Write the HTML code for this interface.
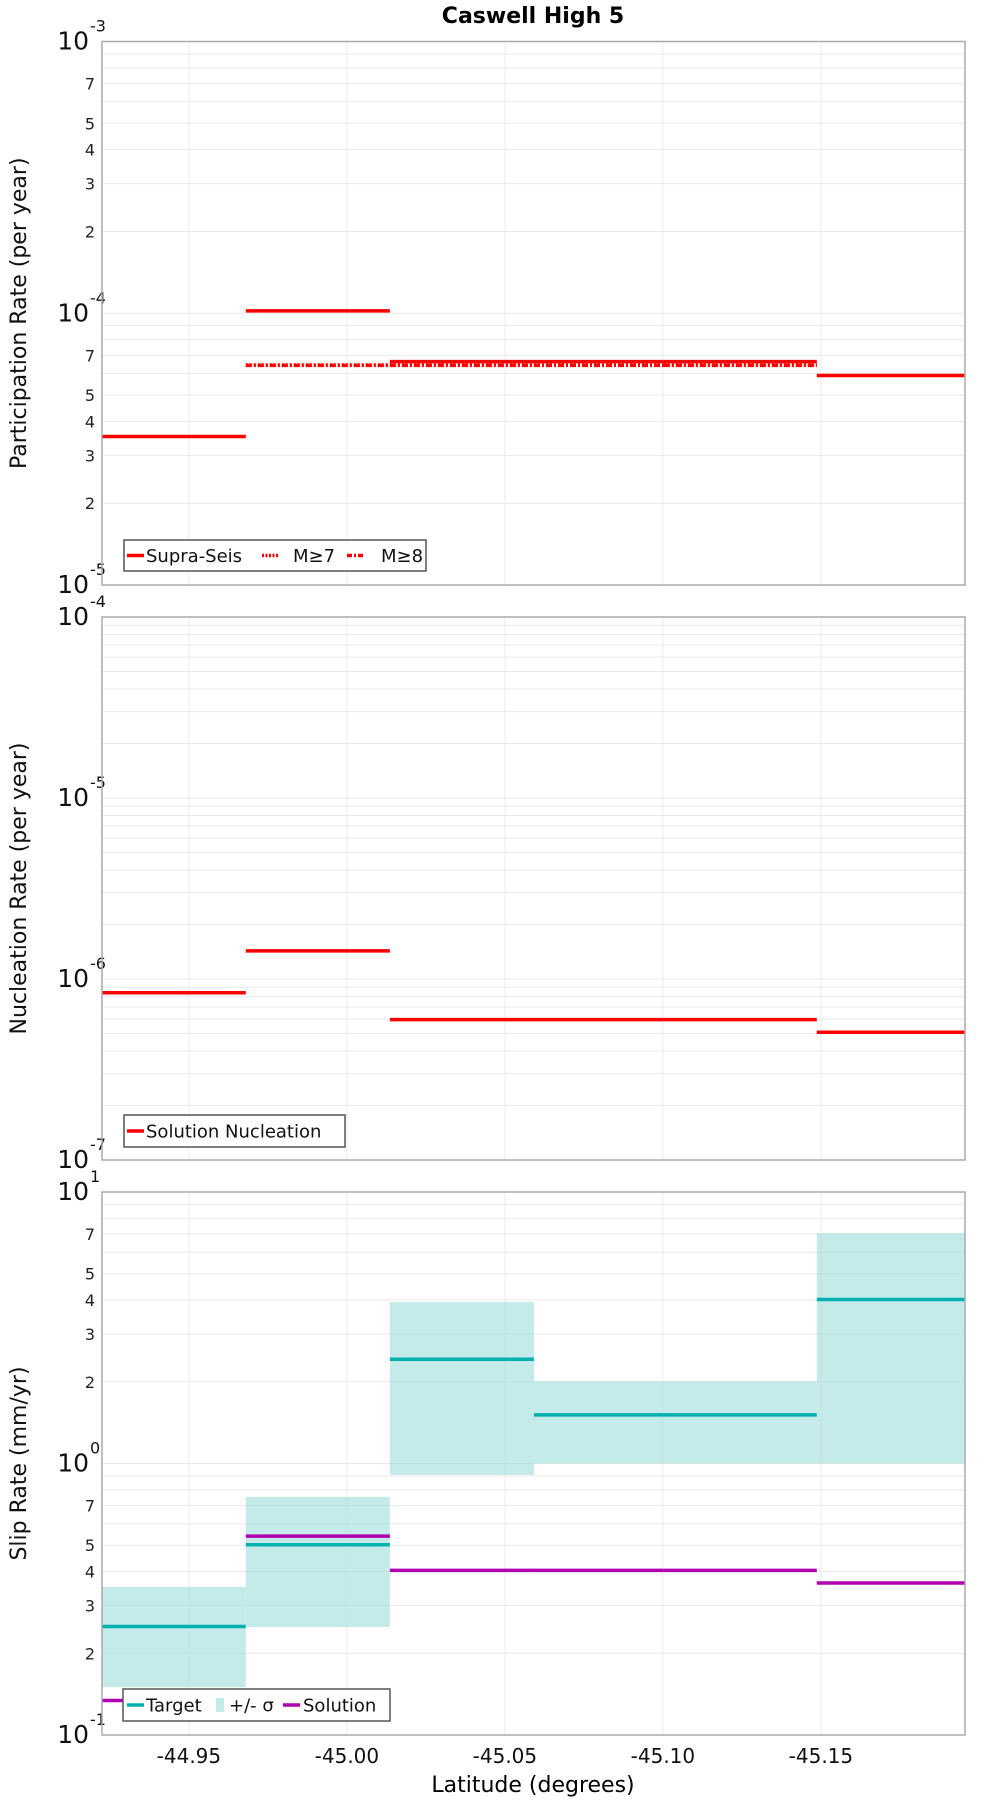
<!DOCTYPE html>
<html><head><meta charset="utf-8"><style>
html,body{margin:0;padding:0;background:#fff;}
svg text{font-family:"DejaVu Sans","Liberation Sans",sans-serif;}
</style></head><body>
<svg id="chart" xmlns="http://www.w3.org/2000/svg" width="1000" height="1800" viewBox="0 0 1000 1800">
<rect width="1000" height="1800" fill="#fff"/>
<text x="533" y="23" text-anchor="middle" font-size="22" font-weight="bold">Caswell High 5</text>
<g id="layer"></g>
<text x="533" y="1792" text-anchor="middle" font-size="22">Latitude (degrees)</text>
</svg>
<script>
// ---- data ----
const sectionBounds = [-44.9225, -44.968, -45.0136, -45.0592, -45.1003, -45.1487, -45.1956];
const xTicks = [-44.95, -45.00, -45.05, -45.10, -45.15];
const xTickLabels = ["-44.95", "-45.00", "-45.05", "-45.10", "-45.15"];
const supraSeis = [3.52e-5, 1.02e-4, 6.64e-5, 6.64e-5, 6.64e-5, 5.9e-5];
const m7Rate = [null, 6.45e-5, 6.45e-5, 6.45e-5, 6.45e-5, null];
const m8Rate = [null, 6.43e-5, 6.43e-5, 6.43e-5, 6.43e-5, null];
const nucleation = [8.4e-7, 1.43e-6, 5.96e-7, 5.96e-7, 5.96e-7, 5.08e-7];
const targetSlip = [0.251, 0.502, 2.42, 1.51, 1.51, 4.02];
const sigmaHigh = [0.351, 0.753, 3.93, 2.01, 2.01, 7.05];
const sigmaLow = [0.150, 0.25, 0.908, 1.0, 1.0, 1.0];
const solutionSlip = [0.134, 0.54, 0.404, 0.404, 0.404, 0.363];
const panel1Decades = [-5, -3];
const panel2Decades = [-7, -4];
const panel3Decades = [-1, 1];

// ---- layout ----
const NS = "http://www.w3.org/2000/svg";
const layer = document.getElementById("layer");
const X0 = 102, X1 = 965;
const latL = -44.9225, latR = -45.1956;
function xScale(lat){ return X0 + (lat - latL) / (latR - latL) * (X1 - X0); }
function mk(tag, attrs, parent){
  const e = document.createElementNS(NS, tag);
  for (const k in attrs) e.setAttribute(k, attrs[k]);
  (parent || layer).appendChild(e);
  return e;
}
function makeY(top, bottom, d){
  return v => bottom - (Math.log10(v) - d[0]) / (d[1] - d[0]) * (bottom - top);
}

function panel(name, top, bottom, decades, minorLabels, title){
  const g = mk("g", {});
  
  
  const y = makeY(top, bottom, decades);
  // minor gridlines
  for (let d = decades[0]; d < decades[1]; d++) {
    for (let m = 2; m <= 9; m++) {
      const yy = y(m * Math.pow(10, d));
      const gl = mk("line", {x1: X0, x2: X1, y1: yy, y2: yy, stroke: "#e9e9e9", "stroke-width": 1}, g);
      
      
      if (minorLabels && [2,3,4,5,7].includes(m)) {
        const t = mk("text", {x: 95, y: yy + 6, "text-anchor": "end", "font-size": 16, fill: "#222"}, g);
        t.textContent = String(m);
        
        
      }
    }
  }
  for (let d = decades[0]; d <= decades[1]; d++) {
    const yy = y(Math.pow(10, d));
    if (d > decades[0] && d < decades[1]) {
      const gl = mk("line", {x1: X0, x2: X1, y1: yy, y2: yy, stroke: "#e9e9e9", "stroke-width": 1}, g);
      
      
    }
    const t = mk("text", {x: 89, y: yy + 8, "text-anchor": "end", "font-size": 25, fill: "#111"}, g);
    t.textContent = "10";
    
    
    const s = mk("text", {x: 90, y: yy - 10, "text-anchor": "start", "font-size": 16, fill: "#111"}, g);
    s.textContent = String(d);
    
    
  }
  xTicks.forEach(v => {
    const xx = xScale(v);
    const gl = mk("line", {x1: xx, x2: xx, y1: top, y2: bottom, stroke: "#ebebeb", "stroke-width": 1}, g);
    
    
  });
  const tt = mk("text", {transform: `translate(26 ${(top + bottom) / 2}) rotate(-90)`, "text-anchor": "middle", "font-size": 22, fill: "#111"}, g);
  tt.textContent = title;
  
  
  return {g, y, top, bottom};
}
function border(p, name){
  const r = mk("rect", {x: X0, y: p.top, width: X1 - X0, height: p.bottom - p.top, fill: "none", stroke: "#aaaaaa", "stroke-width": 1.5});
  
  
}
function steps(p, vals, color, dash, name, w){
  vals.forEach((v, i) => {
    if (v == null) return;
    const yy = p.y(v);
    const a = {x1: xScale(sectionBounds[i]), x2: xScale(sectionBounds[i + 1]), y1: yy, y2: yy, stroke: color, "stroke-width": w || 3.5};
    if (dash) a["stroke-dasharray"] = dash;
    const l = mk("line", a, p.g);
    
    
  });
}

// Panel 1
const p1 = panel("participation", 41.5, 585, panel1Decades, true, "Participation Rate (per year)");
steps(p1, m7Rate, "#ff0000", "2 2", "m7");
steps(p1, m8Rate, "#ff0000", "6 2 2 2", "m8");
steps(p1, supraSeis, "#ff0000", null, "supra-seis");
border(p1, "participation");

// Panel 2
const p2 = panel("nucleation", 617, 1160, panel2Decades, false, "Nucleation Rate (per year)");
steps(p2, nucleation, "#ff0000", null, "nucleation");
border(p2, "nucleation");

// Panel 3
const p3 = panel("slip", 1192, 1735, panel3Decades, true, "Slip Rate (mm/yr)");
sigmaHigh.forEach((hi, i) => {
  const yt = p3.y(hi), yb = p3.y(sigmaLow[i]);
  const r = mk("rect", {x: xScale(sectionBounds[i]), y: yt, width: xScale(sectionBounds[i + 1]) - xScale(sectionBounds[i]), height: yb - yt, fill: "#9fdfdd", "fill-opacity": 0.62}, p3.g);
  
  
});
steps(p3, targetSlip, "#00b0b0", null, "target");
steps(p3, solutionSlip, "#b000b0", null, "solution");
border(p3, "slip");

// x tick labels
xTicks.forEach((v, i) => {
  const t = mk("text", {x: xScale(v), y: 1763, "text-anchor": "middle", "font-size": 20, fill: "#111"});
  t.textContent = xTickLabels[i];
  
  
});

// legends
function legend(name, x, y, w, h, items){
  const g = mk("g", {});
  
  
  mk("rect", {x, y, width: w, height: h, fill: "#fff", stroke: "#555", "stroke-width": 1.5}, g);
  items.forEach(it => {
    const cy = y + h / 2;
    let sw;
    if (it.box) {
      sw = mk("rect", {x: it.lx, y: cy - 7, width: 8, height: 14, fill: "#c3ebea"}, g);
    } else {
      const a = {x1: it.lx, x2: it.lx + 17, y1: cy, y2: cy, stroke: it.color, "stroke-width": 3.5};
      if (it.dash) a["stroke-dasharray"] = it.dash;
      sw = mk("line", a, g);
    }
    
    
    const t = mk("text", {x: it.tx, y: cy + 6.5, "font-size": 18, fill: "#111"}, g);
    t.textContent = it.label;
    
    
  });
}
legend("participation-legend", 124, 540, 302, 31, [
  {lx: 127, tx: 146, color: "#ff0000", label: "Supra-Seis"},
  {lx: 262, tx: 293, color: "#ff0000", dash: "2 1.5", label: "M≥7"},
  {lx: 347, tx: 381, color: "#ff0000", dash: "5 2 2 2", label: "M≥8"}
]);
legend("nucleation-legend", 124, 1115, 221, 32, [
  {lx: 127, tx: 146, color: "#ff0000", label: "Solution Nucleation"}
]);
legend("slip-legend", 123, 1689, 267, 32, [
  {lx: 127, tx: 146, color: "#00b0b0", label: "Target"},
  {lx: 216, box: true, tx: 229, label: "+/- σ"},
  {lx: 283, tx: 303, color: "#b000b0", label: "Solution"}
]);
</script>
</body></html>
